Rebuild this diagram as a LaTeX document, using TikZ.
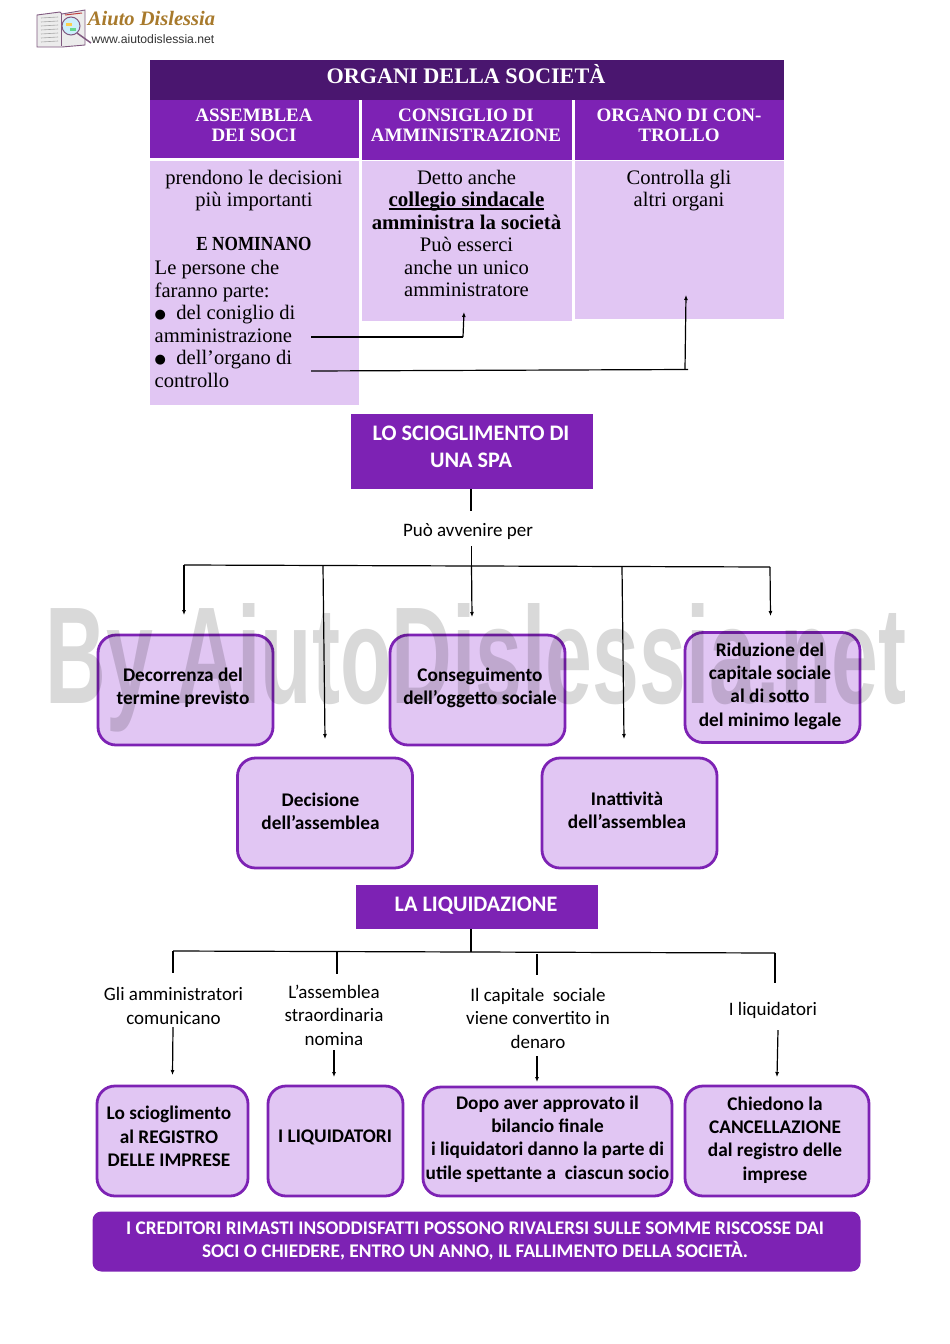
\documentclass[tikz,border=0pt]{standalone}
\usepackage{fontspec}
\setmainfont{Carlito}
\newfontfamily\serifcam{Liberation Serif}
\newfontfamily\lsans{Liberation Sans}
\newfontfamily\symfont{DejaVu Sans}
\usetikzlibrary{arrows.meta}
\definecolor{pdark}{HTML}{4A166F}
\definecolor{pmid}{HTML}{7D22B4}
\definecolor{plight}{HTML}{E1C6F3}
\definecolor{gold}{HTML}{A87A2C}
\newcommand{\bul}{{\symfont\fontsize{13}{13}\selectfont\raisebox{1pt}{●}}}
\newcommand{\bld}[2][20.8]{{\bfseries\fontsize{#1}{22.5}\selectfont #2}}
\newcommand{\ulfix}[1]{\setbox0\hbox{#1}\rlap{\rule[-2.6pt]{\wd0}{1.2pt}}\box0}
\tikzset{
  panel/.style={fill=#1,draw=none,inner sep=0pt},
  sertext/.style={font=\serifcam\fontsize{20.6}{22.5}\selectfont,align=center,inner sep=0pt,text=black},
  hdtext/.style={font=\serifcam\bfseries\fontsize{19}{20}\selectfont,align=center,inner sep=0pt,text=white},
  roundbox/.style={draw=pmid,line width=2.8pt,fill=plight,rounded corners=18pt},
  boxtext/.style={font=\bfseries\fontsize{19.3}{23.3}\selectfont,align=center,inner sep=0pt,text=black},
  lab/.style={font=\fontsize{19}{23.5}\selectfont,align=center,inner sep=0pt,text=black},
  conn/.style={draw=black,line width=1.2pt},
  arr/.style={conn,-{Latex[length=5pt,width=4pt]}},
  titlebox/.style={fill=pmid,draw=none},
  whitetext/.style={font=\bfseries\fontsize{22.2}{27}\selectfont,align=center,text=white,inner sep=0pt},
}
\begin{document}
\begin{tikzpicture}[x=1pt,y=-1pt]
\useasboundingbox (0,0) rectangle (950,1344);
\fill[white] (0,0) rectangle (950,1344);
% logo
\fill[gray!15,draw=gray!70!violet,line width=.9pt] (37,15) -- (60,12) -- (62,14) -- (85,10) -- (85,45) -- (62,47) -- (37,47) -- cycle;
\draw[gray!70!violet,line width=.6pt] (61,14) -- (61,46);
\foreach \yy in {18,22,26,30,34,38,42}{\draw[gray!70,line width=.6pt] (41,\yy) -- (58,\yy-1);}
\draw[red!50!gray,line width=1pt] (65,15) -- (82,13);
\draw[fill=cyan!20,draw=gray!70!violet,line width=1pt] (71,26) circle (9);
\fill[yellow!50!orange!70] (66,23) rectangle (72,26);
\fill[green!50!teal!60] (70,28) rectangle (76,31);
\draw[gray!70!violet,line width=1.5pt] (77,33) -- (91,43);
\node[inner sep=0pt,font=\serifcam\itshape\bfseries\fontsize{20.5}{21}\selectfont,text=gold] (logotitle) at (151.5,19) {Aiuto Dislessia};
\node[inner sep=0pt,font=\lsans\fontsize{12.2}{12}\selectfont,text=black!80] (logourl) at (153,39.5) {www.aiutodislessia.net};
% table
\path[panel=pdark] (150,60) rectangle (784,100);
\path[panel=pmid] (150,100) rectangle (359,158);
\path[panel=pmid] (362,100) rectangle (572,160);
\path[panel=pmid] (575,100) rectangle (784,160);
\path[panel=plight] (150,161) rectangle (359,405);
\path[panel=plight] (362,161) rectangle (572,321);
\path[panel=plight] (575,161) rectangle (784,319);
\node[hdtext,font=\serifcam\bfseries\fontsize{22.2}{24}\selectfont] (organi) at (466,74.5) {ORGANI DELLA SOCIETÀ};
\node[hdtext] (assemblea) at (254,125) {ASSEMBLEA\\DEI SOCI};
\node[hdtext] (consiglio) at (466,125) {CONSIGLIO DI\\AMMINISTRAZIONE};
\node[hdtext] (controllo) at (679,125) {ORGANO DI CON-\\TROLLO};
\node[sertext,anchor=north] (prendono) at (254,170) {prendono le decisioni\\più importanti};
\node[sertext,anchor=north] (nominano) at (254,237.5) {\scalebox{.86}[1]{\bld[20]{E NOMINANO}}};
\node[sertext,anchor=north west,align=left] (persone) at (154.5,260.5) {Le persone che\\faranno parte:\\\bul\ \ del coniglio di\\amministrazione\\\bul\ \ dell’organo di\\controllo};
\node[sertext,anchor=north] (detto) at (466.5,170) {Detto anche\\\bld[21]{\ulfix{collegio sindacale}}\\\bld{amministra la società}\\Può esserci\\anche un unico\\amministratore};
\node[sertext,anchor=north] (altri) at (679,170) {Controlla gli\\altri organi};
\coordinate (c1a) at (311,337);
\coordinate (c1b) at (463,337);
\coordinate (c1c) at (464,312);
\coordinate (c2a) at (311,371);
\coordinate (c2b) at (685,369.5);
\coordinate (c2c) at (686,295);
\coordinate (c2d) at (688,369.5);
\draw[conn] (c1a) -- (c1b);
\draw[arr] (c1b) -- (c1c);
\draw[conn] (c2a) -- (c2d);
\draw[arr] (c2b) -- (c2c);
% scioglimento
\node[titlebox,minimum width=242pt,minimum height=75pt,inner sep=0pt] (sciog) at (472,451.5) {};
\node[whitetext] (sciogt) at (471,446.5) {LO SCIOGLIMENTO DI\\UNA SPA};
\node[lab] (puo) at (468,531.5) {Può avvenire per};
\coordinate (t1) at (471,511);
\draw[conn] (sciog.south -| t1) -- (t1);
\coordinate (t2) at (471.5,546);
\coordinate (jl) at (184,565);
\coordinate (jr) at (770,567);
\coordinate (jm) at (471.5,565.6);
\coordinate (jd) at (323,566);
\coordinate (ji) at (622,566.8);
\draw[conn] (t2) -- (jm);
\draw[conn] (jl) -- (jr);
\node[roundbox,minimum width=175pt,minimum height=110pt,inner sep=0pt] (decorrenza) at (185.5,690) {};
\node[roundbox,minimum width=175pt,minimum height=110pt,inner sep=0pt] (conseg) at (477.5,690) {};
\node[roundbox,minimum width=175pt,minimum height=110pt,inner sep=0pt] (riduz) at (772.5,687.5) {};
\node[roundbox,minimum width=175pt,minimum height=110pt,inner sep=0pt] (decis) at (325,813) {};
\node[roundbox,minimum width=175pt,minimum height=110pt,inner sep=0pt] (inatt) at (629.5,813) {};
\node[boxtext] (decorrenzat) at (183,688) {Decorrenza del\\termine previsto};
\node[boxtext] (consegt) at (480,688) {Conseguimento\\dell’oggetto sociale};
\node[boxtext] (riduzt) at (770,686) {Riduzione del\\capitale sociale\\al di sotto\\del minimo legale};
\node[boxtext] (decist) at (320.5,811) {Decisione\\dell’assemblea};
\node[boxtext] (inattt) at (627,810) {Inattività\\dell’assemblea};
\draw[arr] (jl) -- (184,615);
\draw[arr] (jd) -- (325,739);
\draw[arr] (jm) -- (472,617);
\draw[arr] (ji) -- (624,739);
\draw[arr] (jr) -- (770.5,616);
% liquidazione
\node[titlebox,minimum width=242pt,minimum height=44pt,inner sep=0pt] (liq) at (477,907) {};
\node[whitetext] (liqt) at (476,905.5) {LA LIQUIDAZIONE};
\coordinate (lt) at (471,951.5);
\coordinate (ll) at (173,951);
\coordinate (lr) at (775,953);
\coordinate (l2) at (337,951.5);
\coordinate (l3) at (537,954);
\draw[conn] (liq.south -| lt) -- (lt);
\draw[conn] (ll) -- (lr);
\draw[conn] (ll) -- (173,973);
\draw[conn] (l2) -- (337,974);
\draw[conn] (l3) -- (537,975);
\draw[conn] (lr) -- (775,983);
\node[lab] (gli) at (173.5,1006) {Gli amministratori\\comunicano};
\node[lab] (lass) at (334,1015) {L’assemblea\\straordinaria\\nomina};
\node[lab] (ilcap) at (538,1018) {Il capitale\ \ sociale\\viene convertito in\\denaro};
\node[lab] (iliq) at (773,1010) {I liquidatori};
\node[roundbox,minimum width=151pt,minimum height=110pt,inner sep=0pt] (b1) at (172.5,1141) {};
\node[roundbox,minimum width=135pt,minimum height=110pt,inner sep=0pt] (b2) at (335.5,1141) {};
\node[roundbox,minimum width=249pt,minimum height=109pt,inner sep=0pt] (b3) at (547.5,1141.5) {};
\node[roundbox,minimum width=184pt,minimum height=110pt,inner sep=0pt] (b4) at (777,1141) {};
\node[boxtext] (b1t) at (169,1136.5) {Lo scioglimento\\al REGISTRO\\DELLE IMPRESE};
\node[boxtext] (b2t) at (335,1137.5) {I LIQUIDATORI};
\node[boxtext] (b3t) at (547.5,1139) {Dopo aver approvato il\\bilancio finale\\i liquidatori danno la parte di\\utile spettante a\ \ ciascun socio};
\node[boxtext] (b4t) at (775,1140) {Chiedono la\\CANCELLAZIONE\\dal registro delle\\imprese};
\coordinate (a1) at (173,1027);
\coordinate (a2) at (334,1050);
\coordinate (a3) at (537,1056);
\coordinate (a4) at (778,1030);
\draw[arr] (a1) -- (172.5,1075);
\draw[arr] (a2) -- (334,1077);
\draw[arr] (a3) -- (537,1082);
\draw[arr] (a4) -- (777,1077);
\node[fill=pmid,rounded corners=9pt,minimum width=768pt,minimum height=60pt,inner sep=0pt] (banner) at (476.5,1241.5) {};
\node[font=\bfseries\fontsize{19.3}{23.3}\selectfont,align=center,text=white,inner sep=0pt] (bannert) at (475,1241) {I CREDITORI RIMASTI INSODDISFATTI POSSONO RIVALERSI SULLE SOMME RISCOSSE DAI\\SOCI O CHIEDERE, ENTRO UN ANNO, IL FALLIMENTO DELLA SOCIETÀ.};
% watermark
\node[inner sep=0pt,text=black,text opacity=.15,font=\lsans\bfseries\fontsize{138}{138}\selectfont,xscale=.61,anchor=base] (wm) at (476,703) {By AiutoDislessia.net};
\end{tikzpicture}
\end{document}
